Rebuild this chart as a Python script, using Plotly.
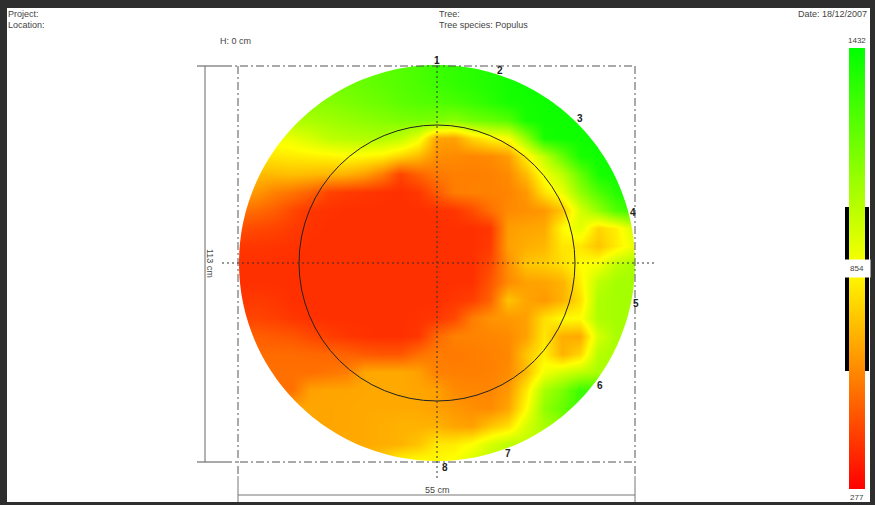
import numpy as np
import plotly.graph_objects as go

grid_x = [238,256,274,292,310,328,346,364,382,400,418,436,454,472,490,508,526,544,562,580,598,616,634]
grid_y = [66,84,102,120,138,156,174,192,210,228,246,264,282,300,318,336,354,372,390,408,426,444,462]

r066 = [1150,1150,1150,1150,1150,1170,1180,1200,1220,1240,1270,1300,1320,1340,1360,1380,1400,1400,1400,1400,1400,1400,1400]
r084 = [1150,1150,1150,1150,1150,1170,1180,1200,1220,1240,1260,1290,1320,1340,1360,1390,1400,1400,1400,1400,1400,1400,1400]
r102 = [1120,1120,1120,1120,1120,1130,1150,1170,1190,1220,1240,1250,1270,1300,1340,1380,1390,1400,1400,1400,1400,1400,1400]
r120 = [1040,1040,1040,1040,1050,1070,1090,1110,1130,1150,1160,1150,1120,1170,1200,1240,1380,1400,1400,1400,1400,1400,1400]
r138 = [880,880,880,900,950,1000,1020,1030,1030,1000,900,650,640,760,830,870,1100,1380,1400,1400,1400,1400,1400]
r156 = [800,800,800,810,820,830,850,840,820,760,700,600,590,580,590,630,820,1000,1200,1380,1400,1400,1400]
r174 = [700,700,700,710,700,690,680,640,560,430,500,550,565,565,570,590,700,880,1000,1200,1380,1400,1400]
r192 = [640,620,570,540,500,430,410,400,390,385,400,480,560,570,570,575,620,790,900,1100,1250,1350,1400]
r210 = [540,520,490,440,400,390,385,385,385,385,385,390,400,450,530,590,600,620,720,950,1100,1250,1300]
r228 = [450,440,430,410,390,385,385,385,385,385,385,385,385,385,400,630,650,660,840,920,760,820,950]
r246 = [400,400,395,390,385,385,385,385,385,385,385,385,385,385,410,640,670,690,800,800,720,810,900]
r264 = [385,385,385,385,385,385,385,385,385,385,385,385,385,385,440,600,720,740,780,850,880,1000,1050]
r282 = [385,385,385,385,385,385,385,385,385,385,385,385,385,385,470,590,640,650,680,820,1000,1060,1060]
r300 = [400,410,400,385,385,385,385,385,385,385,385,385,400,420,500,720,650,620,680,780,1040,1060,1060]
r318 = [430,430,420,400,390,385,385,385,385,385,390,400,440,560,610,620,640,780,850,850,1040,1060,1060]
r336 = [500,490,480,470,440,420,400,390,385,385,400,510,570,575,580,590,640,800,670,660,950,1050,1050]
r354 = [520,520,520,520,515,510,500,480,470,470,530,560,550,560,570,580,720,820,680,760,1020,1050,1050]
r372 = [530,530,530,530,530,540,560,650,660,660,640,570,565,565,570,590,700,880,950,1000,1050,1050,1050]
r390 = [530,530,530,530,640,650,650,655,660,660,650,640,590,580,580,620,800,1050,1150,1300,1300,1300,1300]
r408 = [650,650,650,650,650,650,655,660,660,660,660,640,620,600,590,650,850,1100,1200,1300,1300,1300,1300]
r426 = [650,650,650,650,650,650,655,660,670,680,680,680,650,640,720,780,950,1050,1100,1100,1100,1100,1100]
r444 = [660,660,660,660,660,660,660,660,670,680,720,800,810,860,950,1010,1000,1000,1000,1000,1000,1000,1000]
r462 = [700,700,700,700,700,700,700,700,750,850,860,850,870,950,1000,1000,1000,1000,1000,1000,1000,1000,1000]
velocity = [r066,r084,r102,r120,r138,r156,r174,r192,r210,r228,r246,r264,r282,r300,r318,r336,r354,r372,r390,r408,r426,r444,r462]

v_min, v_mid, v_max = 277, 854, 1432
header_texts = ["Project:", "Location:", "Tree:", "Tree species: Populus"]
date_text = "Date: 18/12/2007"
height_text = "H: 0 cm"
electrodes = ["1", "2", "3", "4", "5", "6", "7", "8"]
width_text, diameter_text = "55 cm", "113 cm"

W, H = 875, 505
cx, cy, R, r_in = 437, 263, 198, 138
box_l, box_r, box_t, box_b = 238, 635, 66, 462
DARK = "#2e2e2e"

fig = go.Figure(go.Heatmap(
    x=grid_x, y=grid_y, z=velocity, zmin=v_min, zmax=v_max, zsmooth="best",
    colorscale=[[0, "#ff0000"], [(v_mid - v_min) / (v_max - v_min), "#ffff00"], [1, "#00ff00"]],
    hoverinfo="skip",
    colorbar=dict(x=849 / W, xanchor="left", y=1 - 48 / H, yanchor="top",
                  thickness=16, thicknessmode="pixels", len=441, lenmode="pixels",
                  outlinewidth=0, borderwidth=0, xpad=0, ypad=0, showticklabels=False, ticks=""),
))

shapes = []
def line(x0, y0, x1, y1, color="#333333", width=1, dash="solid"):
    shapes.append(dict(type="line", x0=x0, y0=y0, x1=x1, y1=y1, layer="above",
                       line=dict(color=color, width=width, dash=dash)))

shapes.append(dict(type="rect", x0=7, y0=8, x1=870, y1=502, layer="below",
                   fillcolor="white", line_width=0))

t = np.linspace(0, 2 * np.pi, 240, endpoint=False)
circle = "M" + "L".join(f"{cx + R * np.cos(a):.1f},{cy + R * np.sin(a):.1f}" for a in t) + "Z"
shapes.append(dict(type="path", path=f"M222,50H655V478H222Z{circle}", fillcolor="white",
                   line_width=0, layer="above", fillrule="evenodd"))

shapes.append(dict(type="circle", x0=cx - r_in, x1=cx + r_in, y0=cy - r_in, y1=cy + r_in,
                   line=dict(color="#222222", width=1), layer="above"))

dd = "8px,3px,2px,3px"
line(224, box_t, box_r, box_t, dash=dd, color="#555555")
line(224, box_b, box_r, box_b, dash=dd, color="#555555")
line(box_l, box_t, box_l, 476, dash=dd, color="#555555")
line(box_r, box_t, box_r, 476, dash=dd, color="#555555")
line(cx, 56, cx, 480, dash="2px,3px", color="#333333")
line(222, cy, 655, cy, dash="2px,3px", color="#333333")
line(197, box_t, 224, box_t, color="#555555")
line(197, box_b, 224, box_b, color="#555555")
line(205, box_t, 205, box_b, color="#666666")
line(box_l, 495, box_r, 495, color="#777777")
line(box_l, 476, box_l, 502, color="#777777")
line(box_r, 476, box_r, 502, color="#777777")

for x0, x1 in [(845, 849), (865, 869)]:
    shapes.append(dict(type="rect", x0=x0, x1=x1, y0=207, y1=371, fillcolor="black",
                       line_width=0, layer="above"))

FONT = "Liberation Sans, Arial, sans-serif"
ann = []
def text(x, y, s, size=9, anchor="left", color="#444444", angle=0, **kw):
    ann.append(dict(x=x, y=y, xref="x", yref="y", text=s, showarrow=False, xanchor=anchor,
                    yanchor="middle", textangle=angle, borderpad=0,
                    font=dict(family=FONT, size=size, color=color), **kw))

text(7, 14, header_texts[0])
text(7, 25, header_texts[1])
text(438, 14, header_texts[2])
text(438, 25, header_texts[3])
text(868, 14, date_text, anchor="right")
text(219, 41, height_text)
text(857, 40, str(v_max), size=8, anchor="center")
text(857, 268.5, str(v_mid), size=8, anchor="center", bgcolor="white", width=26, height=17)
text(857, 497, str(v_min), size=8, anchor="center")
text(437, 490, width_text, anchor="center")
text(210, 263, diameter_text, anchor="center", angle=90)
for s, (x, y) in zip(electrodes, [(437, 60), (500, 70), (580, 118), (633, 212),
                                  (636, 303), (600, 385), (508, 453), (445, 467)]):
    text(x, y, "<b>" + s + "</b>", size=10, anchor="center", color="#222222")

fig.update_layout(
    width=W, height=H, margin=dict(l=0, r=0, t=0, b=0, pad=0, autoexpand=False),
    paper_bgcolor=DARK, plot_bgcolor="rgba(0,0,0,0)",
    xaxis=dict(range=[0, W], visible=False, fixedrange=True),
    yaxis=dict(range=[H, 0], visible=False, fixedrange=True),
    shapes=shapes, annotations=ann, showlegend=False,
)
fig.write_html("out.html", config={"displayModeBar": False},
               post_script="document.body.style.margin='0';document.body.style.overflow='hidden';document.body.style.background='" + DARK + "';")
